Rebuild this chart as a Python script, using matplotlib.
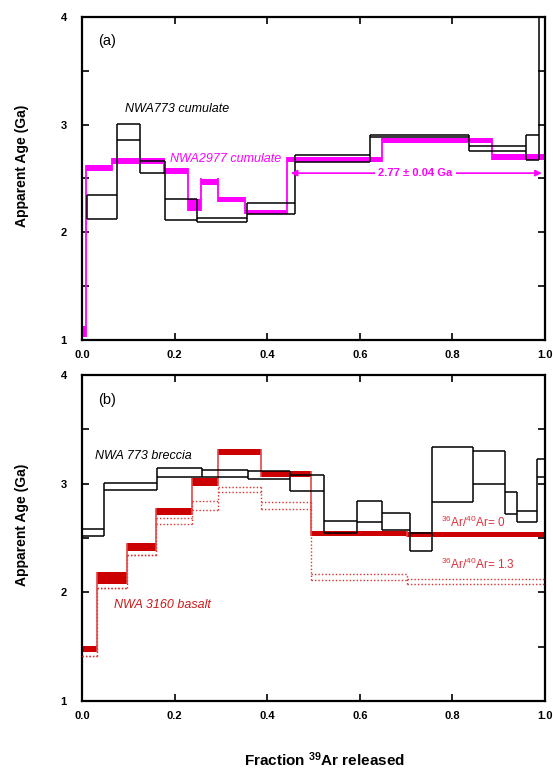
import matplotlib
matplotlib.use("Agg")
import matplotlib.pyplot as plt
from matplotlib.ticker import MultipleLocator, FuncFormatter
import numpy as np

plt.rcParams['font.family'] = ['Liberation Sans', 'DejaVu Sans']
plt.rcParams['mathtext.fontset'] = 'custom'
plt.rcParams['mathtext.rm'] = 'Liberation Sans'
plt.rcParams['mathtext.bf'] = 'Liberation Sans:bold'
plt.rcParams['mathtext.it'] = 'Liberation Sans:italic'

# ---------------- data: panel (a) ----------------
a773_edges = [0.010, 0.076, 0.126, 0.179, 0.248, 0.357, 0.459, 0.621, 0.835, 0.958, 0.988, 1.0]
a773_lo = [2.12, 2.86, 2.55, 2.11, 2.10, 2.17, 2.65, 2.886, 2.76, 2.67, 4.3]
a773_hi = [2.35, 3.01, 2.66, 2.31, 2.13, 2.27, 2.72, 2.902, 2.80, 2.90, 4.6]

a2977_edges = [0.0, 0.009, 0.064, 0.177, 0.230, 0.258, 0.294, 0.351, 0.443, 0.648, 0.886, 1.0]
a2977_lo = [1.03, 2.57, 2.635, 2.54, 2.20, 2.44, 2.285, 2.17, 2.65, 2.83, 2.67]
a2977_hi = [1.13, 2.63, 2.69, 2.60, 2.31, 2.50, 2.33, 2.21, 2.70, 2.88, 2.725]

plateau_age = "2.77 ± 0.04 Ga"
plateau_x = [0.451, 0.993]
plateau_y = 2.55

# ---------------- data: panel (b) ----------------
b773_edges = [0.0, 0.0475, 0.161, 0.26, 0.358, 0.449, 0.523, 0.595, 0.647, 0.708, 0.755,
              0.845, 0.914, 0.939, 0.982, 1.0]
b773_lo = [2.52, 2.94, 3.06, 3.06, 3.04, 2.93, 2.55, 2.65, 2.57, 2.38, 2.83, 3.00, 2.72, 2.65, 3.06]
b773_hi = [2.58, 3.01, 3.14, 3.125, 3.115, 3.08, 2.66, 2.84, 2.73, 2.55, 3.34, 3.30, 2.92, 2.75, 3.23]

b3160_edges = [0.0, 0.032, 0.0965, 0.159, 0.238, 0.294, 0.387, 0.494, 0.701, 1.0]
b3160_lo = [1.45, 2.08, 2.38, 2.71, 2.98, 3.26, 3.06, 2.515, 2.505]
b3160_hi = [1.505, 2.19, 2.45, 2.775, 3.05, 3.315, 3.12, 2.565, 2.555]
b3160_dlo = [1.415, 2.043, 2.341, 2.63, 2.76, 2.92, 2.765, 2.11, 2.075]
b3160_dhi = [1.415, 2.043, 2.341, 2.685, 2.84, 2.97, 2.83, 2.165, 2.12]

x_ticks = [0.0, 0.2, 0.4, 0.6, 0.8, 1.0]
y_ticks = [1, 2, 3, 4]

MAGENTA = '#FF00FF'
RED = '#CC0000'
RED_THIN = '#E04848'
RED_DOT = '#E03030'
RED_TXT = '#E0303C'


def boxes(ax, edges, lo, hi, color, lw, ls='-', fill=False, conn_color=None, conn_lw=None):
    e = np.asarray(edges)
    lo = np.asarray(lo)
    hi = np.asarray(hi)
    if fill:
        for i in range(len(lo)):
            ax.fill_between([e[i], e[i + 1]], [lo[i], lo[i]], [hi[i], hi[i]],
                            color=color, lw=0, zorder=2)
    else:
        ax.hlines(hi, e[:-1], e[1:], colors=color, lw=lw, linestyles=ls, zorder=3)
        ax.hlines(lo, e[:-1], e[1:], colors=color, lw=lw, linestyles=ls, zorder=3)
    cc = conn_color or color
    cl = conn_lw or lw
    vx, vmin, vmax = [], [], []
    vx.append(e[0]); vmin.append(lo[0]); vmax.append(hi[0])
    for i in range(len(lo) - 1):
        vx.append(e[i + 1])
        vmin.append(min(lo[i], lo[i + 1]))
        vmax.append(max(hi[i], hi[i + 1]))
    vx.append(e[-1]); vmin.append(lo[-1]); vmax.append(hi[-1])
    ax.vlines(vx, vmin, vmax, colors=cc, lw=cl, linestyles=ls, zorder=2.5)


fig = plt.figure(figsize=(5.53, 7.70), dpi=100)
axA = fig.add_axes([82 / 553, 1 - 340 / 770, 463 / 553, 323 / 770])
axB = fig.add_axes([82 / 553, 1 - 701 / 770, 463 / 553, 326 / 770])

for ax in (axA, axB):
    ax.set_xlim(0, 1)
    ax.set_ylim(1, 4)
    ax.set_xticks(x_ticks)
    ax.yaxis.set_major_locator(MultipleLocator(0.5))
    ax.xaxis.set_major_formatter(FuncFormatter(lambda v, p: f"{v:.1f}"))
    ax.yaxis.set_major_formatter(FuncFormatter(
        lambda v, p: f"{int(round(v))}" if abs(v - round(v)) < 1e-6 else ""))
    ax.tick_params(direction='in', top=True, right=True, length=5, width=1.2,
                   labelsize=8)
    ax.tick_params(axis='y', pad=11)
    ax.tick_params(axis='x', pad=7)
    for lab in ax.get_xticklabels() + ax.get_yticklabels():
        lab.set_fontweight('bold')
    for s in ax.spines.values():
        s.set_linewidth(1.6)
    ax.set_ylabel('Apparent Age (Ga)', fontsize=10, fontweight='bold')
    ax.yaxis.set_label_coords(-(82 - 29) / 463, 0.54)

# ---- panel (a)
boxes(axA, a2977_edges, a2977_lo, a2977_hi, MAGENTA, 1.2, fill=True, conn_lw=1.3)
boxes(axA, a773_edges, a773_lo, a773_hi, 'black', 1.1)
axA.text(0.035, 3.78, '(a)', fontsize=10.5, va='center', ha='left')
axA.text(0.093, 3.146, 'NWA773 cumulate', fontsize=9, style='italic', va='center', ha='left')
axA.text(0.19, 2.68, 'NWA2977 cumulate', fontsize=9, style='italic', color=MAGENTA,
         va='center', ha='left')
axA.annotate('', xy=(plateau_x[0], plateau_y), xytext=(plateau_x[1], plateau_y),
             arrowprops=dict(arrowstyle='<|-|>', color=MAGENTA, lw=1.2,
                             mutation_scale=9, shrinkA=0, shrinkB=0), zorder=4)
axA.text(np.mean(plateau_x) - 0.002, plateau_y, plateau_age, fontsize=8, fontweight='bold',
         color=MAGENTA, ha='center', va='center', zorder=5,
         bbox=dict(boxstyle='square,pad=0.3', fc='white', ec='none'))

# ---- panel (b)
boxes(axB, b3160_edges, b3160_dlo, b3160_dhi, RED_DOT, 1.0, ls=(0, (1, 1.5)))
boxes(axB, b3160_edges, b3160_lo, b3160_hi, RED, 1.2, fill=True, conn_color=RED_THIN, conn_lw=1.2)
boxes(axB, b773_edges, b773_lo, b773_hi, 'black', 1.1)
axB.text(0.035, 3.77, '(b)', fontsize=10.5, va='center', ha='left')
axB.text(0.027, 3.256, 'NWA 773 breccia', fontsize=9, style='italic', va='center', ha='left')
axB.text(0.07, 1.88, 'NWA 3160 basalt', fontsize=9, style='italic', color='#D01818',
         va='center', ha='left')
axB.text(0.775, 2.648, r'$^{36}$Ar/$^{40}$Ar= 0', fontsize=8.5, color=RED_TXT,
         va='center', ha='left')
axB.text(0.775, 2.258, r'$^{36}$Ar/$^{40}$Ar= 1.3', fontsize=8.5, color=RED_TXT,
         va='center', ha='left')

fig.text(324 / 553, 4 / 770, r'Fraction $^{\mathbf{39}}$Ar released', fontsize=11,
         fontweight='bold', ha='center', va='baseline')

fig.savefig('out.png', dpi=100)
